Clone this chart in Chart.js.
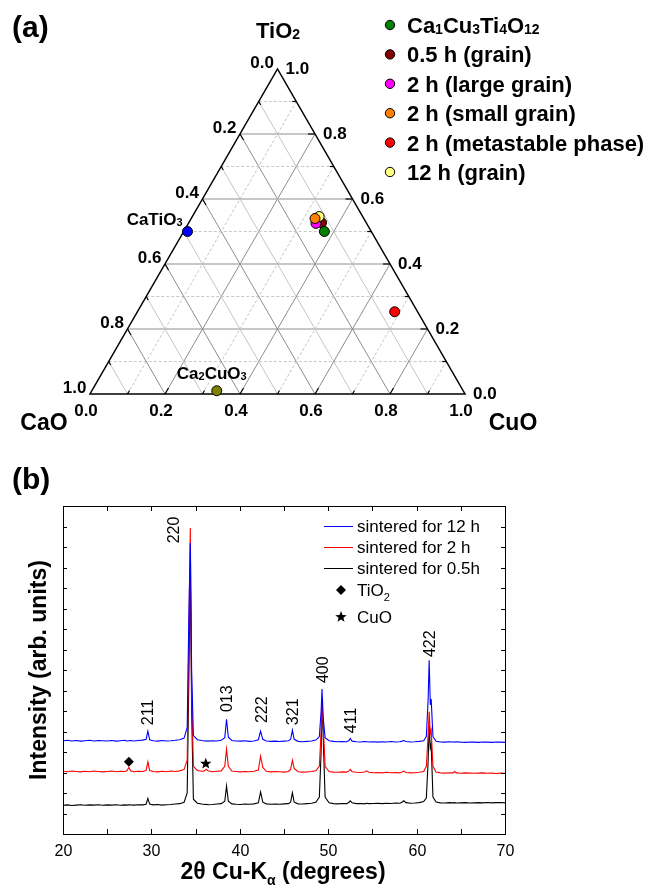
<!DOCTYPE html>
<html>
<head>
<meta charset="utf-8">
<script src="https://cdn.jsdelivr.net/npm/chart.js@4.4.1/dist/chart.umd.min.js"></script>
<style>
  body { margin: 0; background: #fff; }
  #wrap { position: relative; width: 654px; height: 885px; background: #fff; }
  canvas { position: absolute; left: 0; }
  #ternary { top: 0; }
  #xrd { top: 450px; }
</style>
</head>
<body>
<div id="wrap">
  <canvas id="ternary" width="654" height="450"></canvas>
  <canvas id="xrd" width="654" height="435"></canvas>
</div>
<script>
// (a) compositions in the CaO - CuO - TiO2 triangle (molar fractions)
const phaseNames = ['Ca1Cu3Ti4O12', '0.5 h (grain)', '2 h (large grain)', '2 h (small grain)', '2 h (metastable phase)', '12 h (grain)'];
const phaseCaO  = [0.125, 0.119, 0.135, 0.130, 0.061, 0.116];
const phaseCuO  = [0.375, 0.354, 0.340, 0.330, 0.686, 0.338];
const phaseTiO2 = [0.500, 0.527, 0.525, 0.540, 0.253, 0.546];
const phaseColors = ['#008000', '#800000', '#ff00ff', '#ff8000', '#ff0000', '#ffff80'];
const phaseOrder = [0, 5, 4, 2, 1, 3];

const refNames = ['CaTiO3', 'Ca2CuO3'];
const refCaO  = [0.49, 0.657];
const refCuO  = [0.01, 0.333];
const refTiO2 = [0.50, 0.010];
const refColors = ['#0000ff', '#808000'];

const ternaryTicks = [0, 0.2, 0.4, 0.6, 0.8, 1.0];

// (b) XRD patterns
const twoTheta = [
  20, 20.5, 21, 21.5, 22, 22.5, 23, 23.5, 24, 24.5,
  25, 25.5, 26, 26.5, 27, 27.25, 27.45, 27.65, 28, 28.5,
  29, 29.4, 29.6, 29.8, 30.2, 30.7, 31.2, 31.7, 32.2, 32.7,
  33.2, 33.7, 34.05, 34.25, 34.4, 34.55, 34.75, 35.2, 35.7, 36.0,
  36.2, 36.4, 36.9, 37.4, 37.9, 38.3, 38.5, 38.7, 39.1, 39.6,
  40.1, 40.6, 41.1, 41.6, 42.1, 42.35, 42.6, 43.0, 43.5, 44.0,
  44.5, 45.0, 45.5, 45.75, 45.95, 46.15, 46.6, 47.1, 47.6, 48.1,
  48.6, 49.0, 49.2, 49.3, 49.45, 49.65, 50.1, 50.6, 51.1, 51.6,
  52.1, 52.35, 52.5, 52.7, 53.2, 53.7, 54.1, 54.35, 54.6, 55.1,
  55.6, 56.1, 56.6, 57.1, 57.6, 58.1, 58.35, 58.55, 58.8, 59.3,
  59.8, 60.3, 60.8, 61.1, 61.3, 61.42, 61.55, 61.65, 61.85, 62.2,
  62.7, 63.2, 63.7, 64.1, 64.3, 64.5, 65.0, 65.5, 66.0, 66.5,
  67.0, 67.5, 68.0, 68.5, 69.0, 69.5, 70.0
];
const int05h = [
  1.40, 1.42, 1.39, 1.41, 1.43, 1.40, 1.42, 1.41, 1.43, 1.40,
  1.42, 1.41, 1.43, 1.40, 1.42, 1.41, 1.43, 1.42, 1.41, 1.43,
  1.42, 1.45, 1.74, 1.46, 1.42, 1.44, 1.41, 1.43, 1.44, 1.46,
  1.48, 1.55, 2.00, 8.00, 13.0, 6.00, 1.70, 1.50, 1.46, 1.44,
  1.45, 1.43, 1.44, 1.46, 1.48, 1.60, 2.34, 1.60, 1.47, 1.45,
  1.44, 1.46, 1.45, 1.47, 1.52, 2.05, 1.55, 1.47, 1.45, 1.46,
  1.45, 1.47, 1.48, 1.55, 2.01, 1.55, 1.47, 1.46, 1.48, 1.50,
  1.55, 1.80, 4.00, 6.60, 4.50, 1.80, 1.52, 1.48, 1.47, 1.49,
  1.48, 1.55, 1.62, 1.52, 1.48, 1.49, 1.47, 1.50, 1.48, 1.49,
  1.50, 1.48, 1.50, 1.49, 1.51, 1.50, 1.55, 1.62, 1.53, 1.50,
  1.51, 1.53, 1.58, 1.75, 3.50, 5.30, 4.20, 4.40, 1.80, 1.56,
  1.52, 1.51, 1.53, 1.52, 1.53, 1.51, 1.52, 1.53, 1.51, 1.52,
  1.53, 1.52, 1.54, 1.52, 1.53, 1.54, 1.52
];
const int2h = [
  3.06, 3.04, 3.07, 3.05, 3.03, 3.06, 3.04, 3.07, 3.05, 3.03,
  3.05, 3.07, 3.04, 3.06, 3.05, 3.10, 3.25, 3.08, 3.04, 3.06,
  3.05, 3.10, 3.52, 3.10, 3.05, 3.03, 3.06, 3.04, 3.07, 3.05,
  3.08, 3.15, 3.60, 10.0, 14.93, 7.00, 3.30, 3.10, 3.06, 3.08,
  3.16, 3.08, 3.04, 3.06, 3.08, 3.30, 4.14, 3.30, 3.07, 3.05,
  3.03, 3.05, 3.04, 3.06, 3.12, 3.80, 3.25, 3.06, 3.03, 3.05,
  3.04, 3.02, 3.05, 3.15, 3.60, 3.20, 3.04, 3.02, 3.03, 3.05,
  3.08, 3.30, 5.00, 6.30, 5.20, 3.30, 3.05, 3.02, 3.01, 3.03,
  3.02, 3.08, 3.15, 3.04, 3.01, 3.00, 3.02, 3.08, 3.01, 2.99,
  3.00, 2.98, 3.01, 2.99, 3.00, 2.98, 3.02, 3.07, 3.00, 2.98,
  2.99, 3.01, 3.05, 3.30, 4.80, 5.96, 4.90, 5.07, 3.30, 3.02,
  2.98, 2.97, 2.99, 2.98, 3.05, 2.98, 2.96, 2.98, 2.97, 2.96,
  2.97, 2.98, 2.96, 2.97, 2.95, 2.97, 2.96
];
const int12h = [
  4.55, 4.57, 4.54, 4.56, 4.53, 4.55, 4.57, 4.54, 4.56, 4.55,
  4.54, 4.56, 4.53, 4.55, 4.57, 4.54, 4.55, 4.56, 4.54, 4.56,
  4.58, 4.62, 5.02, 4.60, 4.55, 4.53, 4.56, 4.54, 4.55, 4.57,
  4.60, 4.68, 5.20, 11.0, 14.2, 8.00, 4.80, 4.60, 4.56, 4.54,
  4.55, 4.53, 4.55, 4.54, 4.57, 4.70, 5.60, 4.72, 4.56, 4.54,
  4.53, 4.55, 4.52, 4.54, 4.60, 5.02, 4.62, 4.54, 4.52, 4.53,
  4.51, 4.53, 4.55, 4.62, 5.07, 4.62, 4.52, 4.50, 4.52, 4.54,
  4.58, 4.75, 6.00, 7.07, 5.60, 4.70, 4.55, 4.52, 4.50, 4.51,
  4.50, 4.56, 4.66, 4.53, 4.50, 4.49, 4.51, 4.50, 4.49, 4.50,
  4.48, 4.50, 4.49, 4.51, 4.49, 4.50, 4.53, 4.56, 4.51, 4.49,
  4.50, 4.52, 4.55, 4.75, 6.50, 8.48, 6.30, 6.58, 4.75, 4.52,
  4.49, 4.48, 4.50, 4.49, 4.48, 4.50, 4.48, 4.47, 4.49, 4.48,
  4.47, 4.49, 4.48, 4.47, 4.49, 4.48, 4.47
];
const seriesNames = ['sintered for 12 h', 'sintered for 2 h', 'sintered for 0.5h'];
const seriesColors = ['#0000ff', '#ff0000', '#000000'];

const hklNames = ['211', '220', '013', '222', '321', '400', '411', '422'];
const hklLabelAngle = [29.6, 32.45, 38.5, 42.4, 45.95, 49.3, 52.5, 61.45];
const hklLabelLevel = [5.31, 14.18, 5.95, 5.41, 5.31, 7.36, 4.92, 8.63];
const impurityNames = ['TiO2', 'CuO'];
const impurityAngle = [27.45, 36.15];
const impurityLevel = [3.52, 3.43];

const xTicks = [20, 25, 30, 35, 40, 45, 50, 55, 60, 65, 70];

const FONT = '"Liberation Sans", Arial, sans-serif';
const SQ3 = Math.sqrt(3) / 2;

function toXY(a, c, t) {
  return { x: c + t / 2, y: t * SQ3 };
}

// digits right after a letter become subscripts
function formulaParts(s) {
  const parts = [];
  const re = /(\d+)|(\D+)/g;
  let m;
  while ((m = re.exec(s)) !== null) {
    const prev = s[m.index - 1];
    const isSub = m[1] && prev && /[A-Za-z]/.test(prev);
    parts.push([m[0], isSub ? 1 : 0]);
  }
  return parts;
}

// parts: [text, kind] kind 0 normal, 1 small at baseline, 2 lowered subscript
function richText(ctx, parts, x, y, size, weight, align) {
  const subSize = Math.round(size * 0.62);
  let total = 0;
  parts.forEach(p => {
    ctx.font = `${weight} ${p[1] ? subSize : size}px ${FONT}`;
    total += ctx.measureText(p[0]).width;
  });
  let cx = x;
  if (align === 'center') cx = x - total / 2;
  if (align === 'right') cx = x - total;
  ctx.textAlign = 'left';
  ctx.textBaseline = 'alphabetic';
  parts.forEach(p => {
    ctx.font = `${weight} ${p[1] ? subSize : size}px ${FONT}`;
    const dy = p[1] === 2 ? size * 0.28 : (p[1] === 1 ? 1 : 0);
    ctx.fillText(p[0], cx, y + dy);
    cx += ctx.measureText(p[0]).width;
  });
}

// ---------- (a) ternary diagram ----------
function tpx(chart, a, c, t) {
  const p = toXY(a, c, t);
  return [chart.scales.x.getPixelForValue(p.x), chart.scales.y.getPixelForValue(p.y)];
}

function segment(ctx, p, q) {
  ctx.beginPath();
  ctx.moveTo(p[0], p[1]);
  ctx.lineTo(q[0], q[1]);
  ctx.stroke();
}

function tick(ctx, p, q, len) {
  const dx = q[0] - p[0], dy = q[1] - p[1];
  const d = Math.hypot(dx, dy);
  segment(ctx, p, [p[0] + dx / d * len, p[1] + dy / d * len]);
}

const ternaryFrame = {
  id: 'ternaryFrame',
  beforeDatasetsDraw(chart) {
    const ctx = chart.ctx;
    ctx.save();
    for (let k = 1; k <= 9; k++) {
      const v = k / 10;
      const major = k % 2 === 0;
      // TiO2 constant (horizontal)
      ctx.setLineDash(major ? [] : [3, 2]);
      ctx.strokeStyle = major ? '#b4b4b4' : '#c8c8c8';
      ctx.lineWidth = major ? 1.5 : 1;
      segment(ctx, tpx(chart, 1 - v, 0, v), tpx(chart, 0, 1 - v, v));
      // CaO constant
      ctx.setLineDash([]);
      ctx.strokeStyle = major ? '#8c8c8c' : '#c4c4c4';
      ctx.lineWidth = 1;
      segment(ctx, tpx(chart, v, 0, 1 - v), tpx(chart, v, 1 - v, 0));
      // CuO constant
      ctx.setLineDash(major ? [] : [3, 2]);
      segment(ctx, tpx(chart, 1 - v, v, 0), tpx(chart, 0, v, 1 - v));
    }
    ctx.setLineDash([]);
    ctx.strokeStyle = '#000';
    ctx.lineWidth = 1.5;
    const L = tpx(chart, 1, 0, 0), R = tpx(chart, 0, 1, 0), T = tpx(chart, 0, 0, 1);
    ctx.beginPath();
    ctx.moveTo(L[0], L[1]);
    ctx.lineTo(R[0], R[1]);
    ctx.lineTo(T[0], T[1]);
    ctx.closePath();
    ctx.stroke();
    // ticks
    ctx.lineWidth = 1.2;
    for (let k = 1; k <= 9; k++) {
      const v = k / 10;
      const len = k % 2 === 0 ? 7 : 4;
      tick(ctx, tpx(chart, v, 0, 1 - v), tpx(chart, v, 1 - v, 0), len);
      tick(ctx, tpx(chart, 0, 1 - v, v), tpx(chart, 1 - v, 0, v), len);
      tick(ctx, tpx(chart, 1 - v, v, 0), tpx(chart, 0, v, 1 - v), len);
    }
    ctx.restore();
  },
  afterDraw(chart) {
    const ctx = chart.ctx;
    ctx.save();
    ctx.fillStyle = '#000';
    // tick labels
    ternaryTicks.forEach(v => {
      const s = v.toFixed(1);
      const pl = tpx(chart, v, 0, 1 - v);
      richText(ctx, [[s, 0]], pl[0] - 3.5, pl[1] - 1, 17, 'bold', 'right');
      const pr = tpx(chart, 0, 1 - v, v);
      richText(ctx, [[s, 0]], pr[0] + 8, pr[1] + 5, 17, 'bold', 'left');
      const pb = tpx(chart, 1 - v, v, 0);
      richText(ctx, [[s, 0]], pb[0] - 4, pb[1] + 22, 17, 'bold', 'center');
    });
    // axis names
    richText(ctx, formulaParts('TiO2'), 278, 38, 22, 'bold', 'center');
    richText(ctx, [['CaO', 0]], 44, 430, 23, 'bold', 'center');
    richText(ctx, [['CuO', 0]], 513, 430, 23, 'bold', 'center');
    richText(ctx, [['(a)', 0]], 12, 37, 30, 'bold', 'left');
    // reference phase labels
    const pc = tpx(chart, refCaO[0], refCuO[0], refTiO2[0]);
    richText(ctx, formulaParts(refNames[0]), pc[0] - 5, pc[1] - 7, 17, 'bold', 'right');
    const pd = tpx(chart, refCaO[1], refCuO[1], refTiO2[1]);
    richText(ctx, formulaParts(refNames[1]), pd[0] - 5, pd[1] - 12, 17, 'bold', 'center');
    // legend
    phaseNames.forEach((name, i) => {
      const cy = 25 + i * 29.4;
      ctx.beginPath();
      ctx.arc(390, cy, 4.7, 0, Math.PI * 2);
      ctx.fillStyle = phaseColors[i];
      ctx.fill();
      ctx.lineWidth = 1;
      ctx.strokeStyle = '#000';
      ctx.stroke();
      ctx.fillStyle = '#000';
      richText(ctx, formulaParts(name), 407, cy + 8, 22, 'bold', 'left');
    });
    ctx.restore();
  }
};

const ternaryDatasets = [];
phaseNames.forEach((name, i) => {
  ternaryDatasets.push({
    label: name,
    data: [toXY(phaseCaO[i], phaseCuO[i], phaseTiO2[i])],
    backgroundColor: phaseColors[i],
    borderColor: '#000',
    borderWidth: 1,
    pointRadius: 5,
    order: phaseOrder[i],
    clip: false
  });
});
refNames.forEach((name, i) => {
  ternaryDatasets.push({
    label: name,
    data: [toXY(refCaO[i], refCuO[i], refTiO2[i])],
    backgroundColor: refColors[i],
    borderColor: '#000',
    borderWidth: 1,
    pointRadius: 5,
    order: 6,
    clip: false
  });
});

new Chart(document.getElementById('ternary'), {
  type: 'scatter',
  data: { datasets: ternaryDatasets },
  options: {
    responsive: false,
    animation: false,
    devicePixelRatio: 1,
    layout: { padding: { left: 90, right: 189, top: 69, bottom: 56 } },
    scales: {
      x: { type: 'linear', min: 0, max: 1, display: false },
      y: { type: 'linear', min: 0, max: SQ3, display: false }
    },
    plugins: { legend: { display: false }, tooltip: { enabled: false } }
  },
  plugins: [ternaryFrame]
});

// ---------- (b) XRD ----------
function drawDiamond(ctx, x, y, r) {
  ctx.beginPath();
  ctx.moveTo(x, y - r);
  ctx.lineTo(x + r, y);
  ctx.lineTo(x, y + r);
  ctx.lineTo(x - r, y);
  ctx.closePath();
  ctx.fill();
}

function drawStar(ctx, x, y, r) {
  ctx.beginPath();
  for (let i = 0; i < 10; i++) {
    const rr = i % 2 === 0 ? r : r * 0.42;
    const ang = -Math.PI / 2 + i * Math.PI / 5;
    ctx.lineTo(x + rr * Math.cos(ang), y + rr * Math.sin(ang));
  }
  ctx.closePath();
  ctx.fill();
}

const xrdFrame = {
  id: 'xrdFrame',
  afterDraw(chart) {
    const ctx = chart.ctx;
    const xs = chart.scales.x, ys = chart.scales.y;
    const a = chart.chartArea;
    ctx.save();
    ctx.strokeStyle = '#000';
    ctx.fillStyle = '#000';
    ctx.lineWidth = 1;
    ctx.strokeRect(a.left + 0.5, a.top + 0.5, a.right - a.left, a.bottom - a.top);
    // x ticks (inward, top and bottom)
    xTicks.forEach(v => {
      const x = Math.round(xs.getPixelForValue(v)) + 0.5;
      segment(ctx, [x, a.bottom], [x, a.bottom - 5]);
      segment(ctx, [x, a.top], [x, a.top + 5]);
      if (v % 10 === 0) {
        richText(ctx, [[String(v), 0]], x, a.bottom + 22, 16, 'normal', 'center');
      }
    });
    // y ticks (inward, left and right, no labels)
    for (let v = 1; v < 16; v++) {
      const y = Math.round(ys.getPixelForValue(v)) + 0.5;
      segment(ctx, [a.left, y], [a.left + 4, y]);
      segment(ctx, [a.right, y], [a.right - 4, y]);
    }
    // titles
    richText(ctx, [['2θ Cu-K', 0], ['α', 2], [' (degrees)', 0]], 283, 429, 23, 'bold', 'center');
    ctx.save();
    ctx.translate(46, 220);
    ctx.rotate(-Math.PI / 2);
    richText(ctx, [['Intensity (arb. units)', 0]], 0, 0, 23, 'bold', 'center');
    ctx.restore();
    richText(ctx, [['(b)', 0]], 12, 39, 30, 'bold', 'left');
    // hkl labels
    hklNames.forEach((name, i) => {
      ctx.save();
      ctx.translate(xs.getPixelForValue(hklLabelAngle[i]) + 5.5, ys.getPixelForValue(hklLabelLevel[i]));
      ctx.rotate(-Math.PI / 2);
      richText(ctx, [[name, 0]], 0, 0, 16, 'normal', 'left');
      ctx.restore();
    });
    // impurity markers
    drawDiamond(ctx, xs.getPixelForValue(impurityAngle[0]), ys.getPixelForValue(impurityLevel[0]), 5);
    drawStar(ctx, xs.getPixelForValue(impurityAngle[1]), ys.getPixelForValue(impurityLevel[1]), 6);
    // legend
    seriesNames.forEach((name, i) => {
      const cy = 76 + i * 21;
      ctx.strokeStyle = seriesColors[i];
      ctx.lineWidth = 1;
      segment(ctx, [324, cy + 0.5], [353, cy + 0.5]);
      ctx.fillStyle = '#000';
      richText(ctx, [[name, 0]], 357, cy + 6, 17, 'normal', 'left');
    });
    drawDiamond(ctx, 341, 140, 5);
    richText(ctx, [['TiO', 0], ['2', 2]], 357, 146, 17, 'normal', 'left');
    drawStar(ctx, 341, 167, 6);
    richText(ctx, [[impurityNames[1], 0]], 357, 173, 17, 'normal', 'left');
    ctx.restore();
  }
};

const xrdSeries = [int12h, int2h, int05h];
new Chart(document.getElementById('xrd'), {
  type: 'line',
  data: {
    datasets: xrdSeries.map((vals, i) => ({
      label: seriesNames[i],
      data: twoTheta.map((t, j) => ({ x: t, y: vals[j] })),
      borderColor: seriesColors[i],
      borderWidth: 1.1,
      pointRadius: 0,
      tension: 0,
      fill: false,
      order: i + 1
    }))
  },
  options: {
    responsive: false,
    animation: false,
    devicePixelRatio: 1,
    layout: { padding: { left: 63, right: 149, top: 56, bottom: 51 } },
    scales: {
      x: { type: 'linear', min: 20, max: 70, display: false },
      y: { type: 'linear', min: 0, max: 16, display: false }
    },
    plugins: { legend: { display: false }, tooltip: { enabled: false } }
  },
  plugins: [xrdFrame]
});
</script>
</body>
</html>
